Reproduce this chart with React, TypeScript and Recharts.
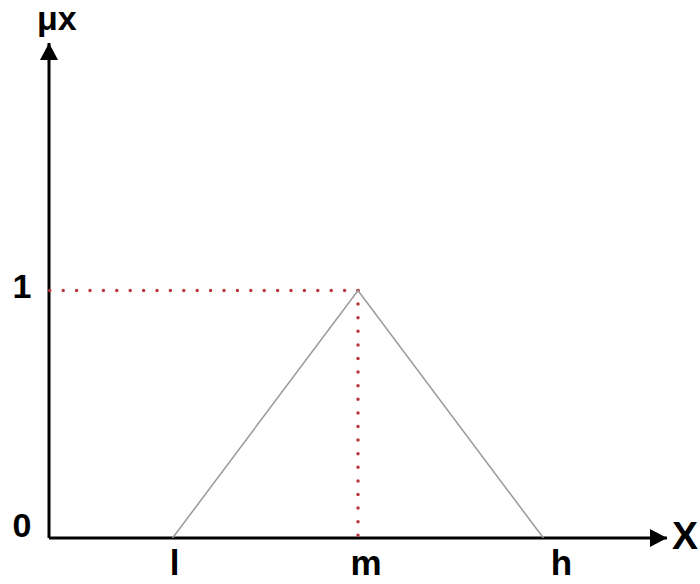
import React from 'react';
import {
  LineChart,
  Line,
  XAxis,
  YAxis,
  ReferenceLine,
  ReferenceDot,
} from 'recharts';

// membership function: l, m, h on the x axis, peak of 1 at m
const xTicks = [2, 5, 8];
const xTickLabels = ['l', 'm', 'h'];
const yTicks = [0, 1];
const yTickLabels = ['0', '1'];
const triangleX = [2, 5, 8];
const triangleY = [0, 1, 0];
const X_MAX = 10;
const Y_MAX = 2;
const PEAK_X = 5;
const PEAK_Y = 1;

const FONT = '"Liberation Sans", Arial, sans-serif';
const RED = '#b8383c';

const data = triangleX.map((x, i) => ({ x, y: triangleY[i] }));

// small nudges so the letters sit where they do in the drawing
const xLabelNudge: Record<string, number> = { l: 2, m: 8, h: 18 };
const yLabelNudge: Record<string, number> = { '0': -1, '1': 7 };

function XTick(props: any) {
  const { x, y, payload } = props;
  const i = xTicks.indexOf(payload.value);
  const text = xTickLabels[i] ?? '';
  return (
    <text
      x={x + (xLabelNudge[text] ?? 0)}
      y={y + 37}
      textAnchor="middle"
      fontFamily={FONT}
      fontWeight="bold"
      fontSize={35}
      fill="#000"
    >
      {text}
    </text>
  );
}

function YTick(props: any) {
  const { x, y, payload } = props;
  const i = yTicks.indexOf(payload.value);
  const text = yTickLabels[i] ?? '';
  return (
    <text
      x={x - 27}
      y={y + (yLabelNudge[text] ?? 0)}
      textAnchor="middle"
      fontFamily={FONT}
      fontWeight="bold"
      fontSize={34}
      fill="#000"
    >
      {text}
    </text>
  );
}

function RightArrow(props: any) {
  const { cx, cy } = props;
  return (
    <g>
      <polygon points={`${cx},${cy} ${cx - 17},${cy - 9} ${cx - 17},${cy + 9}`} fill="#000" />
      <text x={cx + 18} y={cy + 11} textAnchor="middle" fontFamily={FONT} fontWeight="bold" fontSize={39} fill="#000">
        X
      </text>
    </g>
  );
}

function UpArrow(props: any) {
  const { cx, cy } = props;
  return (
    <g>
      <polygon points={`${cx},${cy} ${cx - 9},${cy + 17} ${cx + 9},${cy + 17}`} fill="#000" />
      <text x={cx - 12} y={cy - 13} textAnchor="start" fontFamily={FONT} fontWeight="bold" fontSize={34} fill="#000">
        μx
      </text>
    </g>
  );
}

export default function App() {
  return (
    <div style={{ position: 'absolute', left: 0, top: 0, width: 700, height: 584, background: '#fff' }}>
      <LineChart
        width={700}
        height={584}
        data={data}
        margin={{ top: 43, right: 33, left: 48, bottom: 45 }}
      >
        <XAxis
          dataKey="x"
          type="number"
          domain={[0, X_MAX]}
          ticks={xTicks}
          tick={<XTick />}
          tickLine={false}
          tickSize={0}
          tickMargin={0}
          height={1}
          axisLine={false}
          allowDataOverflow
        />
        <YAxis
          type="number"
          domain={[0, Y_MAX]}
          ticks={yTicks}
          tick={<YTick />}
          tickLine={false}
          tickSize={0}
          tickMargin={0}
          width={1}
          axisLine={false}
          allowDataOverflow
        />
        {/* the two axes, drawn as segments so they meet at the origin */}
        <ReferenceLine
          segment={[{ x: 0, y: 0 }, { x: X_MAX, y: 0 }]}
          stroke="#000"
          strokeWidth={3}
          ifOverflow="visible"
        />
        <ReferenceLine
          segment={[{ x: 0, y: 0 }, { x: 0, y: Y_MAX }]}
          stroke="#000"
          strokeWidth={3}
          ifOverflow="visible"
        />
        <ReferenceLine
          segment={[{ x: PEAK_X, y: PEAK_Y }, { x: 0, y: PEAK_Y }]}
          stroke={RED}
          strokeWidth={3.5}
          strokeDasharray="0 13.4"
          strokeLinecap="round"
          ifOverflow="visible"
        />
        <ReferenceLine
          segment={[{ x: PEAK_X, y: PEAK_Y }, { x: PEAK_X, y: 0 }]}
          stroke={RED}
          strokeWidth={3.5}
          strokeDasharray="0 13.6"
          strokeLinecap="round"
          ifOverflow="visible"
        />
        <Line
          type="linear"
          dataKey="y"
          stroke="#9a9a9a"
          strokeWidth={1.5}
          dot={false}
          activeDot={false}
          isAnimationActive={false}
        />
        <ReferenceDot x={X_MAX} y={0} r={0} shape={<RightArrow />} ifOverflow="visible" />
        <ReferenceDot x={0} y={Y_MAX} r={0} shape={<UpArrow />} ifOverflow="visible" />
      </LineChart>
    </div>
  );
}
